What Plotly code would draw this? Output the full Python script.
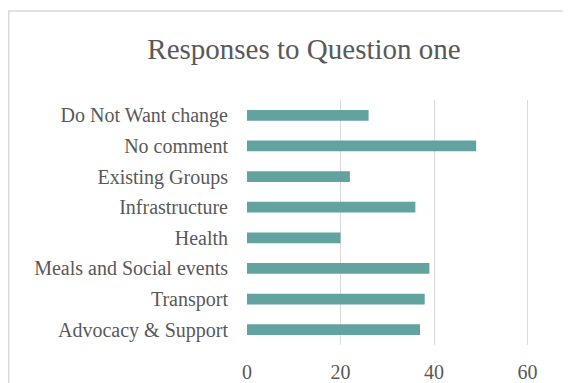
import plotly.graph_objects as go

categories = ["Advocacy & Support", "Transport", "Meals and Social events", "Health",
              "Infrastructure", "Existing Groups", "No comment", "Do Not Want change"]
values = [37, 38, 39, 20, 36, 22, 49, 26]
x_ticks = [0, 20, 40, 60]

# page has an 8px body margin; size the figure so it fills the window
W, H = 563, 375
ml, mr, mt, mb = 239, 0, 92, 38
pw = W - ml - mr
ph = H - mt - mb

font = "Liberation Serif, DejaVu Serif, serif"
txt = "#595959"

fig = go.Figure(go.Bar(
    x=values, y=categories, orientation="h",
    marker=dict(color="#62A39F", line=dict(width=0)),
    width=0.35,
))

fig.update_layout(
    width=W, height=H,
    margin=dict(l=ml, r=mr, t=mt, b=mb, autoexpand=False),
    paper_bgcolor="white", plot_bgcolor="white",
    showlegend=False,
    font=dict(family=font, color=txt, size=20),
    title=dict(text="Responses to Question one", x=296 / W, xanchor="center",
               y=1 - 40.5 / H, yanchor="middle", xref="container", yref="container",
               font=dict(size=29, color=txt, family=font)),
    xaxis=dict(range=[0, 60 * pw / 280.6], tickvals=x_ticks, showgrid=True,
               gridcolor="#D9D9D9", gridwidth=1, zeroline=False, showline=False,
               ticks="", ticklabelstandoff=13, tickfont=dict(size=20, color=txt),
               automargin=False),
    yaxis=dict(categoryorder="array", categoryarray=categories, showgrid=False,
               zeroline=False, showline=False, ticks="", ticklabelstandoff=18,
               tickfont=dict(size=20, color=txt), automargin=False),
    shapes=[dict(type="rect", xref="paper", yref="paper",
                 x0=(0.75 - ml) / pw, x1=1.2, y0=-0.5, y1=(H - mb - 3) / ph,
                 line=dict(color="#D9D9D9", width=1.5), fillcolor="rgba(0,0,0,0)",
                 layer="below")],
)

fig.write_html("out.html")
